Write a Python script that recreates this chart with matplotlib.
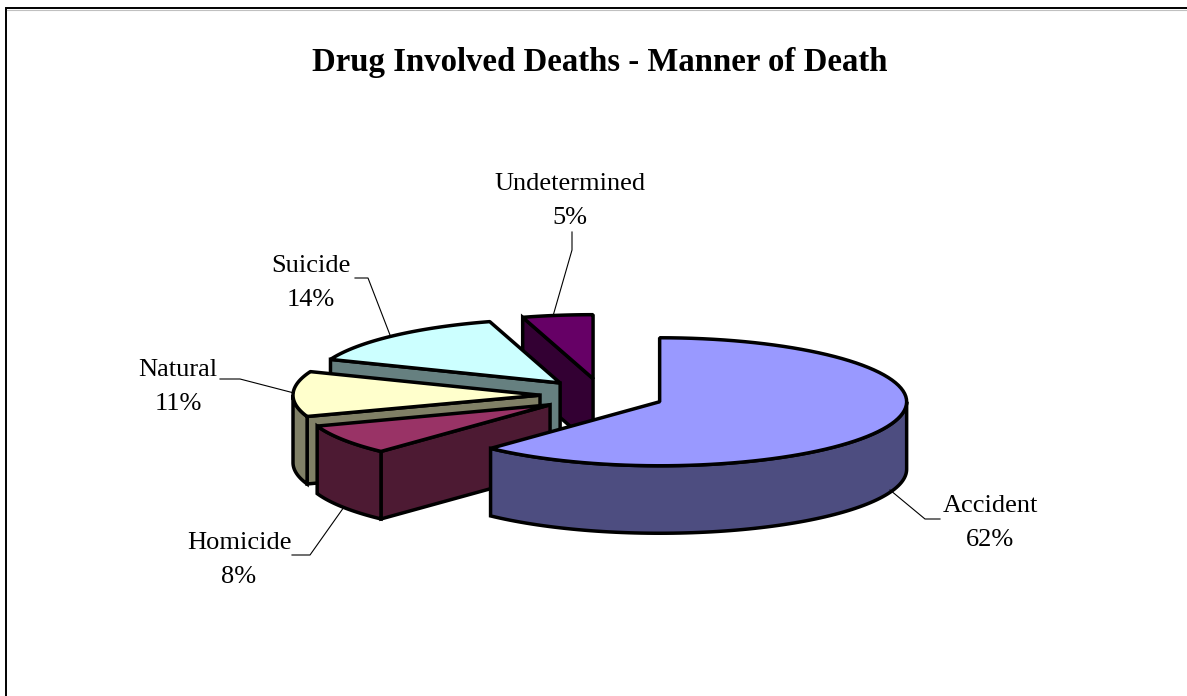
import numpy as np
import matplotlib
matplotlib.use("Agg")
import matplotlib.pyplot as plt
from matplotlib.patches import Polygon

title = "Drug Involved Deaths - Manner of Death"
categories = ["Accident", "Homicide", "Natural", "Suicide", "Undetermined"]
shares = [62.0, 7.6, 11.4, 14.4, 4.6]
top_colors = ["#9999FF", "#993366", "#FFFFCC", "#CCFFFF", "#660066"]
side_colors = ["#4D4D80", "#4D1A33", "#808066", "#668080", "#330033"]

# Layout of the pie, in figure pixels
CX, CY = 602, 395.5
RX, RY = 247, 64
EX, EY = 62, 17
DEPTH = 67.5
LW = 2.5
label_xy = {"Accident": (990, 523), "Homicide": (239, 560), "Natural": (178, 387),
            "Suicide": (311, 283), "Undetermined": (570, 201)}
leaders = {"Accident": [(890, 490), (925, 519), (940, 519)],
           "Homicide": [(344, 507), (310, 555), (292, 555)],
           "Natural": [(294, 393), (240, 379), (220, 379)],
           "Suicide": [(390, 335), (368, 278), (355, 278)],
           "Undetermined": [(553, 316), (572, 250), (572, 232)]}

fig = plt.figure(figsize=(11.87, 6.96), dpi=100, facecolor="white")
ax = fig.add_axes([0, 0, 1, 1])
ax.set_xlim(0, 1187)
ax.set_ylim(696, 0)
ax.axis("off")
FONT = "Liberation Serif"

ax.plot([6, 6, 1187], [696, 8, 8], color="black", lw=1.4, solid_joinstyle="miter")
ax.plot([6.5, 1187], [9.5, 9.5], color="#C0C0C0", lw=0.8)


def rim(cx, cy, a0, a1, n=90):
    t = np.radians(np.linspace(a0, a1, n))
    return np.column_stack([cx + RX * np.sin(t), cy - RY * np.cos(t)])


def poly(pts, color, z, join="miter"):
    ax.add_patch(Polygon(pts, closed=True, facecolor=color, edgecolor="black", lw=LW,
                         joinstyle=join, zorder=z))


total = sum(shares)
edges = np.concatenate([[0], np.cumsum(shares)]) / total * 360
down = np.array([0, DEPTH])

for i in range(len(shares) - 1, -1, -1):
    a0, a1 = edges[i], edges[i + 1]
    mid = np.radians((a0 + a1) / 2)
    cx = CX + EX * np.sin(mid)
    cy = CY - EY * np.cos(mid)
    z = 10 + (len(shares) - i) * 3
    apex = np.array([cx, cy])
    # Cut faces that turn towards the viewer
    if 180 < a0 < 360:
        p = rim(cx, cy, a0, a0, 1)[0]
        poly([p, apex, apex + down, p + down], side_colors[i], z)
    if 0 < a1 < 180:
        p = rim(cx, cy, a1, a1, 1)[0]
        poly([p, apex, apex + down, p + down], side_colors[i], z)
    # Curved outer wall: the part on the front half of the ellipse
    s0, s1 = max(a0, 90), min(a1, 270)
    if s1 > s0:
        arc = rim(cx, cy, s0, s1)
        poly(np.vstack([arc, (arc + down)[::-1]]), side_colors[i], z + 1)
    # Top face
    poly(np.vstack([apex, rim(cx, cy, a0, a1)]), top_colors[i], z + 2, join="bevel")

for name, share in zip(categories, shares):
    xs, ys = zip(*leaders[name])
    ax.plot(xs, ys, color="black", lw=0.8, zorder=40, solid_joinstyle="miter")
    x, y = label_xy[name]
    ax.text(x, y, f"{name}\n{round(share / total * 100)}%", family=FONT, fontsize=19,
            ha="center", va="center", linespacing=1.72, color="black", zorder=50)

ax.text(600, 62, title, family=FONT, fontsize=23.6, fontweight="bold", ha="center", va="center")

fig.savefig("out.png", dpi=100, facecolor="white")
